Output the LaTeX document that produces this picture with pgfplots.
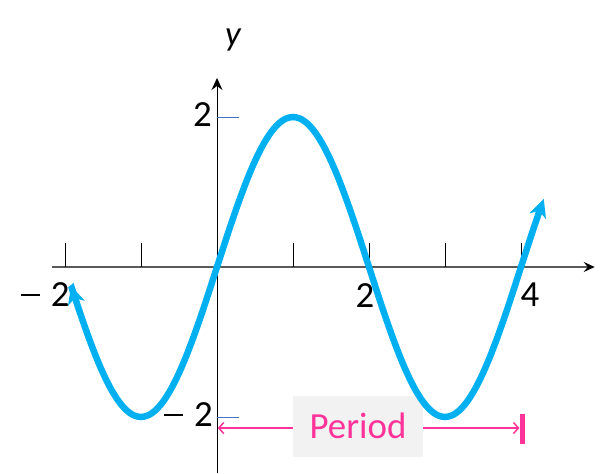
\documentclass[border=0pt]{standalone}
\usepackage{pgfplots}
\pgfplotsset{compat=1.18}
\usetikzlibrary{arrows.meta}
\usepackage{fontspec}
\setmainfont{Carlito}
\definecolor{curve}{HTML}{00B0F0}
\definecolor{pinkc}{HTML}{FF3399}
\definecolor{tickblue}{HTML}{4472C4}
\definecolor{boxgray}{HTML}{F2F2F2}
\newcommand{\mdash}{\rule[0.3em]{0.52em}{0.055em}\hspace{0.3em}}
\begin{document}
\begin{tikzpicture}
\begin{axis}[scale only axis, width=608bp, height=473bp,
  xmin=-2.8553, xmax=5.1447, ymin=-2.7467, ymax=3.56,
  axis lines=none, clip=false]
\path (rel axis cs:0,0) rectangle (rel axis cs:1,1);
% x axis
\draw[color=black!65, line width=1.3bp, -{Stealth[length=11bp,width=10bp,inset=4bp,color=black]}] (axis cs:-2.17,0) -- (axis cs:4.97,0);
% y axis
\draw[black, line width=1bp, -{Stealth[length=12bp,width=11bp,inset=4bp]}] (axis cs:0,-2.7467) -- (axis cs:0,2.52);
% x ticks
\pgfplotsinvokeforeach{-2,-1,1,2,3,4}{\draw[black, line width=0.9bp] (axis cs:#1,0) -- (axis cs:#1,0.32);}
% y ticks
\draw[tickblue, line width=0.9bp] (axis cs:0,2) -- (axis cs:0.29,2);
\draw[tickblue, line width=0.9bp] (axis cs:0,-2) -- (axis cs:0.29,-2);
% tick labels
\node[font=\fontsize{37}{40}\selectfont, inner sep=0pt] at (axis cs:-2.263,-0.373) {\mdash 2};
\node[font=\fontsize{37}{40}\selectfont, inner sep=0pt] at (axis cs:1.947,-0.387) {2};
\node[font=\fontsize{37}{40}\selectfont, inner sep=0pt] at (axis cs:4.118,-0.373) {4};
\node[font=\fontsize{37}{40}\selectfont, inner sep=0pt, anchor=east] at (axis cs:-0.066,2.03) {2};
\node[font=\fontsize{37}{40}\selectfont, inner sep=0pt, anchor=east] at (axis cs:-0.053,-1.973) {\mdash 2};
\node[font=\fontsize{35}{38}\selectfont\itshape, inner sep=0pt] at (axis cs:0.21,3.03) {y};
% period annotation
\draw[pinkc, line width=1.5bp, {Straight Barb[length=5bp,width=11bp]}-{Straight Barb[length=5bp,width=11bp]}] (axis cs:0.01,-2.147) -- (axis cs:3.98,-2.147);
\draw[pinkc, line width=5bp] (axis cs:4.02,-1.96) -- (axis cs:4.02,-2.36);
\fill[boxgray] (axis cs:1.0,-1.72) rectangle (axis cs:2.71,-2.533);
\node[font=\fontsize{37}{40}\selectfont, text=pinkc, inner sep=0pt] at (axis cs:1.855,-2.12) {Period};
% curve
\addplot[curve, line width=6.5bp, smooth, {Stealth[length=18bp,width=17bp,inset=5bp]}-{Stealth[length=18bp,width=17bp,inset=5bp]}] coordinates {
(-1.92,-0.2507) (-1.9,-0.3129) (-1.8,-0.6180) (-1.7,-0.9080) (-1.6,-1.1756) (-1.5,-1.4142)
(-1.4,-1.6180) (-1.3,-1.7820) (-1.2,-1.9021) (-1.1,-1.9754) (-1.0,-2) (-0.9,-1.9754)
(-0.8,-1.9021) (-0.7,-1.7820) (-0.6,-1.6180) (-0.5,-1.4142) (-0.4,-1.1756) (-0.3,-0.9080)
(-0.2,-0.6180) (-0.1,-0.3129) (0,0) (0.1,0.3129) (0.2,0.6180) (0.3,0.9080) (0.4,1.1756)
(0.5,1.4142) (0.6,1.6180) (0.7,1.7820) (0.8,1.9021) (0.9,1.9754) (1.0,2) (1.1,1.9754)
(1.2,1.9021) (1.3,1.7820) (1.4,1.6180) (1.5,1.4142) (1.6,1.1756) (1.7,0.9080) (1.8,0.6180)
(1.9,0.3129) (2.0,0) (2.1,-0.3129) (2.2,-0.6180) (2.3,-0.9080) (2.4,-1.1756) (2.5,-1.4142)
(2.6,-1.6180) (2.7,-1.7820) (2.8,-1.9021) (2.9,-1.9754) (3.0,-2) (3.1,-1.9754) (3.2,-1.9021)
(3.3,-1.7820) (3.4,-1.6180) (3.5,-1.4142) (3.6,-1.1756) (3.7,-0.9080) (3.8,-0.6180)
(3.9,-0.3129) (4.0,0) (4.1,0.3129) (4.2,0.6180) (4.3,0.9080)
};
\end{axis}
\end{tikzpicture}
\end{document}
